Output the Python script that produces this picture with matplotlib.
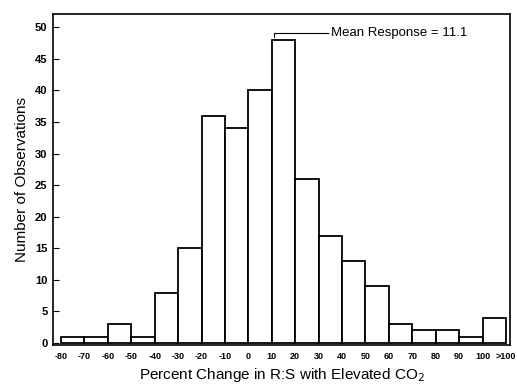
import numpy as np
import matplotlib
matplotlib.use("Agg")
import matplotlib.pyplot as plt

plt.rcParams['font.family'] = ['Liberation Sans', 'DejaVu Sans']

# bin edge labels and counts per bin
edge_labels = ['-80', '-70', '-60', '-50', '-40', '-30', '-20', '-10', '0', '10',
               '20', '30', '40', '50', '60', '70', '80', '90', '100', '>100']
counts = [1, 1, 3, 1, 8, 15, 36, 34, 40, 48, 26, 17, 13, 9, 3, 2, 2, 1, 4]
mean_response = 11.1

fig = plt.figure(figsize=(5.17, 3.85), dpi=100)
ax = fig.add_axes([0.1025, 0.104, 0.884, 0.86])

edges = np.arange(len(edge_labels))
ax.bar(edges[:-1], counts, width=1.0, align='edge', facecolor='white',
       edgecolor='black', linewidth=1.3)

ax.set_xlim(-0.34, len(counts) + 0.17)
ax.set_ylim(-0.3, 52.1)
ax.set_xticks(edges)
ax.set_xticklabels(edge_labels, fontsize=6.5, fontweight='bold')
ax.set_yticks(range(0, 51, 5))
ax.tick_params(axis='y', direction='in', length=4, labelsize=8, pad=4)
ax.tick_params(axis='x', length=0, pad=5)
for lbl in ax.get_yticklabels():
    lbl.set_fontweight('bold')
for s in ax.spines.values():
    s.set_linewidth(1.2)

ax.set_xlabel('Percent Change in R:S with Elevated CO$_2$', fontsize=11, labelpad=4)
ax.set_ylabel('Number of Observations', fontsize=11, labelpad=4)

# mean marker (position in bin units)
mx = 9 + (mean_response - 10) / 10
ax.plot([mx, mx, mx + 2.3], [48.4, 49.1, 49.1], color='black', linewidth=0.8)
ax.text(mx + 2.4, 49.1, 'Mean Response = %.1f' % mean_response, fontsize=9.5,
        va='center', ha='left')

fig.savefig('out.png', dpi=100)
